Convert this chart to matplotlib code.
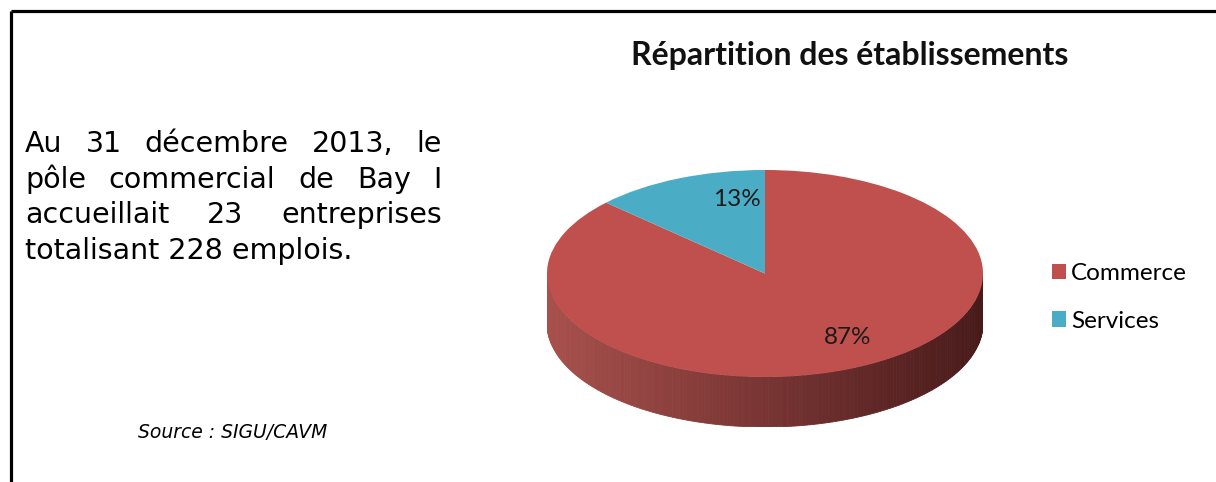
import matplotlib
matplotlib.use("Agg")
import matplotlib.pyplot as plt
import numpy as np

# data
categories = ["Commerce", "Services"]
shares = [87, 13]
slice_colors = ["#c0504d", "#4bacc6"]
title = "Répartition des établissements"
intro_lines = ["Au 31 décembre 2013, le",
               "pôle commercial de Bay I",
               "accueillait 23 entreprises",
               "totalisant 228 emplois."]
source = "Source : SIGU/CAVM"

W, H = 1216, 482
fig = plt.figure(figsize=(W / 100, H / 100), dpi=100)

# pixel axes for text and frame
ax = fig.add_axes([0, 0, 1, 1])
ax.set_xlim(0, W)
ax.set_ylim(H, 0)
ax.axis("off")

ax.plot([10.5, W], [11, 11], color="black", lw=2.3, solid_capstyle="butt")
ax.plot([10.5, 10.5], [11, H], color="black", lw=2.3, solid_capstyle="butt")

# justified paragraph
renderer = fig.canvas.get_renderer()
left, right = 25, 442
baselines = [152, 188, 223, 259]
fs = 20.5
for n, (line, yb) in enumerate(zip(intro_lines, baselines)):
    words = line.split(" ")
    if n == len(intro_lines) - 1:
        ax.text(left, yb, line, fontsize=fs, family="DejaVu Sans",
                va="baseline", ha="left")
        continue
    txts = [ax.text(0, yb, w, fontsize=fs, family="DejaVu Sans",
                    va="baseline", ha="left") for w in words]
    widths = [t.get_window_extent(renderer).width for t in txts]
    gap = (right - left - sum(widths)) / (len(words) - 1)
    x = left
    for t, wd in zip(txts, widths):
        t.set_x(x)
        x += wd + gap

ax.text(138, 432, source, fontsize=13.5, family="DejaVu Sans",
        style="italic", va="center", ha="left")

ax.text(850, 55, title, fontsize=23, family="Lato", weight="bold",
        va="center", ha="center", color="#111111")

# pie geometry (pixels)
cx, cy = 765, 273.5
a, b = 218, 103.5
depth = 50
d = depth / b
pax = fig.add_axes([(cx - a) / W, (H - (cy + b + depth)) / H,
                    2 * a / W, (2 * b + depth) / H])

# side of the cylinder with horizontal gradient
c_left = np.array([168, 80, 76]) / 255
c_right = np.array([72, 26, 26]) / 255
th = np.linspace(np.pi, 2 * np.pi, 181)
for t0, t1 in zip(th[:-1], th[1:]):
    xs = [np.cos(t0), np.cos(t1), np.cos(t1), np.cos(t0)]
    ys = [np.sin(t0), np.sin(t1), np.sin(t1) - d, np.sin(t0) - d]
    f = (np.cos((t0 + t1) / 2) + 1) / 2
    col = c_left * (1 - f) + c_right * f
    pax.fill(xs, ys, color=col, lw=0.6, ec=col, zorder=1)

wedges, _ = pax.pie(shares, colors=slice_colors, startangle=90,
                    counterclock=False, radius=1,
                    wedgeprops=dict(linewidth=0))
for w in wedges:
    w.set_zorder(2)
pax.set_aspect("auto")
pax.set_xlim(-1, 1)
pax.set_ylim(-1 - d, 1)
pax.axis("off")

# percentage labels (drawn in the pie axes so they sit above the wedges)
label_pos = [(848, 337), (737, 200)]
for v, (lx, ly) in zip(shares, label_pos):
    pax.text(lx, ly, f"{v}%", fontsize=17.5, family="Lato",
             ha="center", va="center", color="#1a1a1a", zorder=5,
             transform=ax.transData)

fig.legend(wedges, categories, loc="upper left",
           bbox_to_anchor=(1030 / W, 1 - 241 / H), frameon=False,
           prop=dict(family="Lato", size=17.5), handlelength=0.6,
           handleheight=0.6, handletextpad=0.2, labelspacing=1.1)

fig.savefig("out.png", dpi=100)
